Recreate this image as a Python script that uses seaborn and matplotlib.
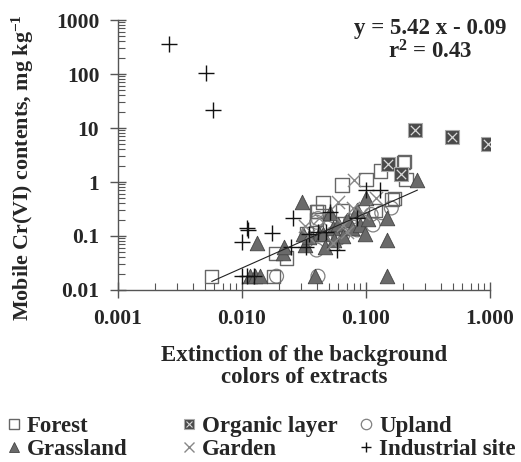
import numpy as np
import pandas as pd
import matplotlib
matplotlib.use("Agg")
import matplotlib.pyplot as plt
import seaborn as sns
from matplotlib.lines import Line2D
from matplotlib.legend_handler import HandlerTuple
from matplotlib.ticker import FixedLocator, FixedFormatter, LogLocator, NullFormatter

# ---------------- data ----------------
forest_x = [0.0057, 0.0185, 0.023, 0.018, 0.033, 0.04, 0.041, 0.045, 0.04, 0.065, 0.064,
            0.10, 0.12, 0.13, 0.162, 0.17, 0.20, 0.205, 0.21]
forest_y = [0.018, 0.048, 0.039, 0.018, 0.11, 0.20, 0.28, 0.41, 0.28, 0.30, 0.88,
            1.1, 0.30, 1.6, 0.48, 0.50, 2.3, 2.4, 1.1]

organic_x = [0.15, 0.19, 0.248, 0.49, 0.96]
organic_y = [2.15, 1.4, 9.2, 6.8, 5.0]

upland_x = [0.019, 0.041, 0.04, 0.04, 0.041, 0.049, 0.054, 0.065, 0.079, 0.095,
            0.114, 0.134, 0.16, 0.06, 0.085, 0.11, 0.075]
upland_y = [0.018, 0.018, 0.055, 0.18, 0.21, 0.14, 0.11, 0.105, 0.145, 0.20,
            0.16, 0.27, 0.33, 0.09, 0.13, 0.25, 0.19]

grass_x = [0.0115, 0.0128, 0.014, 0.0132, 0.0215, 0.022, 0.0305, 0.031, 0.032, 0.039,
           0.042, 0.045, 0.047, 0.051, 0.054, 0.06, 0.065, 0.07, 0.077, 0.085,
           0.09, 0.098, 0.10, 0.104, 0.148, 0.148, 0.148, 0.26, 0.035, 0.055]
grass_y = [0.018, 0.018, 0.018, 0.074, 0.048, 0.063, 0.43, 0.11, 0.068, 0.018,
           0.11, 0.11, 0.063, 0.27, 0.14, 0.17, 0.10, 0.20, 0.14, 0.30,
           0.16, 0.11, 0.50, 0.21, 0.018, 0.084, 0.215, 1.1, 0.095, 0.085]

garden_x = [0.032, 0.042, 0.054, 0.059, 0.07, 0.079, 0.08, 0.095, 0.12, 0.034, 0.065]
garden_y = [0.15, 0.22, 0.074, 0.43, 0.12, 0.33, 1.1, 0.27, 0.50, 0.10, 0.16]

ind_x = [0.0026, 0.0051, 0.0058, 0.010, 0.011, 0.0112, 0.0175, 0.026, 0.010, 0.011,
         0.0125, 0.025, 0.033, 0.035, 0.041, 0.048, 0.051, 0.058, 0.085, 0.10, 0.13]
ind_y = [360, 105, 22, 0.077, 0.14, 0.13, 0.114, 0.215, 0.018, 0.018,
         0.018, 0.063, 0.063, 0.11, 0.118, 0.118, 0.28, 0.055, 0.22, 0.71, 0.71]

trend_x_range = [0.0057, 0.26]
trend_a = 2.8
trend_b = 1.02

x_ticks = [0.001, 0.01, 0.1, 1.0]
x_tick_labels = ["0.001", "0.010", "0.100", "1.000"]
y_ticks = [0.01, 0.1, 1, 10, 100, 1000]
y_tick_labels = ["0.01", "0.1", "1", "10", "100", "1000"]

x_label = "Extinction of the background\ncolors of extracts"
y_label = "Mobile Cr(VI) contents, mg kg$^{-1}$"
equation = "y = 5.42 x - 0.09\nr$^{2}$ = 0.43"

groups = ["Forest", "Grassland", "Organic layer", "Garden", "Upland", "Industrial site"]
group_x = [forest_x, grass_x, organic_x, garden_x, upland_x, ind_x]
group_y = [forest_y, grass_y, organic_y, garden_y, upland_y, ind_y]

frames = [pd.DataFrame({"ext": gx, "cr": gy, "group": g})
          for g, gx, gy in zip(groups, group_x, group_y)]
df = pd.concat(frames, ignore_index=True)

# ---------------- style ----------------
sns.set_style("ticks")
plt.rcParams["font.family"] = ["Liberation Serif", "DejaVu Serif"]
plt.rcParams["font.weight"] = "bold"
plt.rcParams["mathtext.fontset"] = "custom"
plt.rcParams["mathtext.rm"] = "Liberation Serif:bold"
plt.rcParams["mathtext.bf"] = "Liberation Serif:bold"
plt.rcParams["mathtext.it"] = "Liberation Serif:bold"
plt.rcParams["mathtext.default"] = "bf"

FS = 16.5
FS_Y = 15.8
FS_TICK = 15.5
axis_col = "#555555"

fig, ax = plt.subplots(figsize=(5.21, 4.62), dpi=100)
fig.subplots_adjust(left=0.2265, right=0.9405, top=0.9567, bottom=0.3723)

styles = {
    "Forest": dict(marker="s", s=90, color="#666666", facecolor="none", edgecolor="#666666", linewidth=1.0),
    "Grassland": dict(marker="^", s=110, color="#6a6a6a", edgecolor="#444444", linewidth=0.6),
    "Organic layer": dict(marker="s", s=95, color="#4a4a4a", edgecolor="#aaaaaa", linewidth=0.8),
    "Garden": dict(marker="x", s=90, color="#888888", edgecolor="#888888", linewidth=1.0),
    "Upland": dict(marker="o", s=100, color="#808080", facecolor="none", edgecolor="#808080", linewidth=0.9),
    "Industrial site": dict(marker="+", s=140, color="#111111", edgecolor="#111111", linewidth=1.0),
}
order = ["Upland", "Forest", "Grassland", "Garden", "Organic layer", "Industrial site"]
for g in order:
    sub = df[df["group"] == g]
    sns.scatterplot(data=sub, x="ext", y="cr", ax=ax, legend=False, zorder=3, **styles[g])
    if g == "Organic layer":
        sns.scatterplot(data=sub, x="ext", y="cr", ax=ax, legend=False, zorder=4,
                        marker="x", s=45, color="#d8d8d8", edgecolor="#d8d8d8", linewidth=0.9)

tx = np.array(trend_x_range)
sns.lineplot(x=tx, y=trend_a * tx ** trend_b, ax=ax, color="#222222", linewidth=0.8, zorder=5)

ax.set_xscale("log")
ax.set_yscale("log")
ax.set_xlim(x_ticks[0], x_ticks[-1])
ax.set_ylim(y_ticks[0], y_ticks[-1])
ax.xaxis.set_major_locator(FixedLocator(x_ticks))
ax.xaxis.set_major_formatter(FixedFormatter(x_tick_labels))
ax.yaxis.set_major_locator(FixedLocator(y_ticks))
ax.yaxis.set_major_formatter(FixedFormatter(y_tick_labels))
ax.xaxis.set_minor_locator(LogLocator(base=10, subs=np.arange(2, 10)))
ax.yaxis.set_minor_locator(LogLocator(base=10, subs=np.arange(2, 10)))
ax.xaxis.set_minor_formatter(NullFormatter())
ax.yaxis.set_minor_formatter(NullFormatter())

for sp in ["top", "right"]:
    ax.spines[sp].set_visible(False)
for sp in ["left", "bottom"]:
    ax.spines[sp].set_color(axis_col)
    ax.spines[sp].set_linewidth(1.0)

ax.tick_params(which="major", direction="inout", length=11, width=1.0, color=axis_col,
               labelsize=FS_TICK, pad=8)
ax.tick_params(which="minor", direction="in", length=5, width=0.8, color=axis_col)
for lab in ax.get_xticklabels() + ax.get_yticklabels():
    lab.set_fontweight("bold")

ax.set_xlabel(x_label, fontsize=FS, fontweight="bold", labelpad=12, linespacing=1.02)
ax.set_ylabel(y_label, fontsize=FS_Y, fontweight="bold")
ax.yaxis.set_label_coords(-0.22, 0.455)

fig.text(0.826, 0.962, equation, ha="center", va="top", fontsize=FS,
         fontweight="bold", linespacing=1.08)

# ---------------- legend ----------------
def mk(g, ms=7.5):
    st = styles[g]
    fc = st.get("facecolor", st["color"])
    return Line2D([], [], linestyle="none", marker=st["marker"], markersize=ms,
                  markerfacecolor=fc, markeredgecolor=st["edgecolor"],
                  markeredgewidth=st["linewidth"])

org_handle = (mk("Organic layer"),
              Line2D([], [], linestyle="none", marker="x", markersize=5,
                     markeredgecolor="#d8d8d8", markeredgewidth=0.8))

cols = [(0.010, ["Forest", "Grassland"]),
        (0.346, ["Organic layer", "Garden"]),
        (0.686, ["Upland", "Industrial site"])]
for x0, names in cols:
    handles = [org_handle if n == "Organic layer" else mk(n) for n in names]
    fig.legend(handles, names, loc="upper left", bbox_to_anchor=(x0, 0.100),
               frameon=False, handlelength=0.75, handletextpad=0.2,
               labelspacing=0.1, borderpad=0, borderaxespad=0,
               handler_map={tuple: HandlerTuple(ndivide=1)},
               prop={"weight": "bold", "size": FS})

fig.savefig("out.png", dpi=100)
